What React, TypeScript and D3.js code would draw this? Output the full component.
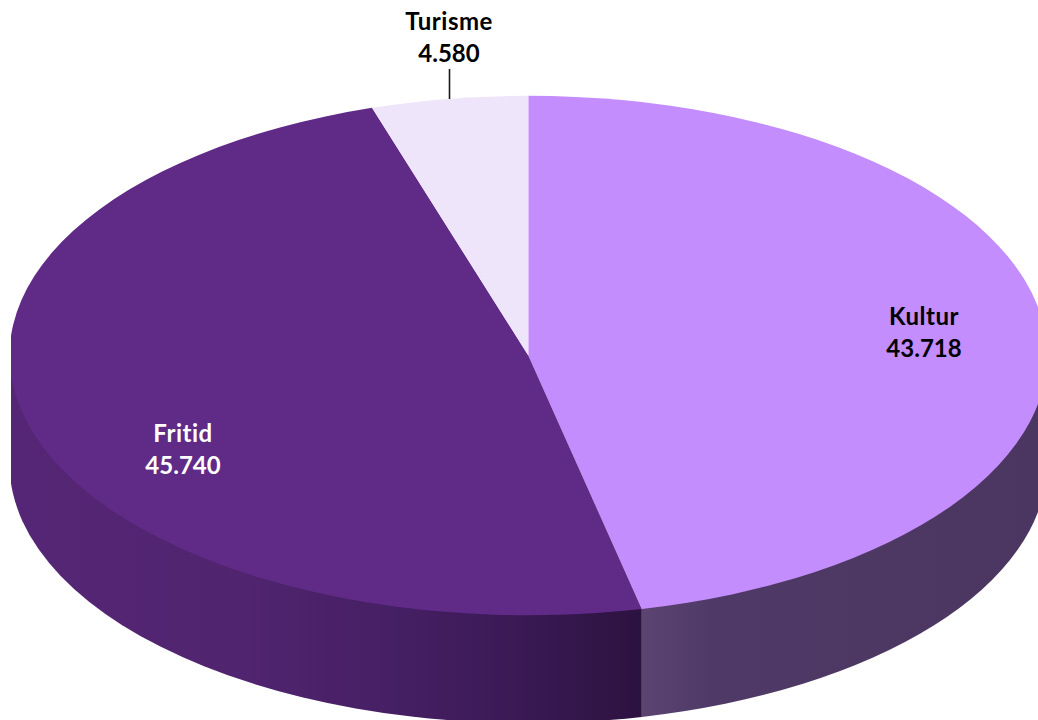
import React from "react";
import * as d3 from "d3";

const categories = ["Kultur", "Fritid", "Turisme"];
const values = [43718, 45740, 4580];
const valueLabels = ["43.718", "45.740", "4.580"];
const topColors = ["#c48dfd", "#602a87", "#efe5fb"];

const W = 1038, H = 720;
const cx = 528.3, cy = 355.5, rx = 518.8, ry = 259.7, depth = 108;
const clipLeft = 11;
const font = "Lato, Carlito, Calibri, sans-serif";

const ellipsePoint = (a: number) => [cx + rx * Math.sin(a), cy - ry * Math.cos(a)];

// The top edge is a chord hidden under the top face, so no seam shows between wall and face.
function wallPath(a0: number, a1: number) {
  const [x0, y0] = ellipsePoint(a0);
  const [x1, y1] = ellipsePoint(a1);
  return `M${x0},${y0}L${x1},${y1}L${x1},${y1 + depth}A${rx},${ry} 0 0 0 ${x0},${y0 + depth}Z`;
}

export default function App() {
  const pie = d3.pie<number>().sort(null)(values);
  const arc = d3.arc<d3.PieArcDatum<number>>().innerRadius(0).outerRadius(rx);
  const kultur = pie[0], fritid = pie[1];
  const splitX = ellipsePoint(kultur.endAngle)[0];

  const fritidStops: [number, string][] = [
    [cx - rx, "#552675"], [250, "#50246f"], [400, "#451f63"], [500, "#3c1a57"], [splitX - 60, "#33164a"], [splitX, "#2c1240"],
  ];
  const kulturStops: [number, string][] = [
    [splitX, "#5b4471"], [splitX + 70, "#4f3966"], [cx + rx, "#4b3661"],
  ];
  const pct = (x: number, a: number, b: number) => `${((x - a) / (b - a)) * 100}%`;

  const labels = [
    { i: 0, x: 924, y: 316, fill: "#000" },
    { i: 1, x: 183, y: 433, fill: "#fff" },
    { i: 2, x: 449, y: 21.5, fill: "#000" },
  ];

  return (
    <svg width={W} height={H} viewBox={`0 0 ${W} ${H}`} style={{ position: "fixed", left: 0, top: 0, background: "#fff" }}>
      <defs>
        <linearGradient id="wallF" gradientUnits="userSpaceOnUse" x1={cx - rx} x2={splitX} y1={0} y2={0}>
          {fritidStops.map(([x, c]) => <stop key={x} offset={pct(x, cx - rx, splitX)} stopColor={c} />)}
        </linearGradient>
        <linearGradient id="wallK" gradientUnits="userSpaceOnUse" x1={splitX} x2={cx + rx} y1={0} y2={0}>
          {kulturStops.map(([x, c]) => <stop key={x} offset={pct(x, splitX, cx + rx)} stopColor={c} />)}
        </linearGradient>
        <clipPath id="plotClip">
          <rect x={clipLeft} y={0} width={W - clipLeft} height={H} />
        </clipPath>
      </defs>

      <g clipPath="url(#plotClip)">
        <path d={wallPath(Math.PI / 2, kultur.endAngle)} fill="url(#wallK)" />
        <path d={wallPath(fritid.startAngle, (3 * Math.PI) / 2)} fill="url(#wallF)" />
        <g transform={`translate(${cx},${cy}) scale(1,${ry / rx})`}>
          {pie.map((d, i) => (
            <path key={categories[i]} d={arc(d) as string} fill={topColors[i]} />
          ))}
        </g>
      </g>

      <line x1={449.5} x2={449.5} y1={69} y2={99} stroke="#1a1a1a" strokeWidth={1.6} />

      {labels.map(({ i, x, y, fill }) => (
        <text key={categories[i]} textAnchor="middle" fontFamily={font} fontWeight={700} fontSize={24} fill={fill}>
          <tspan x={x} y={y} dy="0.36em" letterSpacing={0.5}>{categories[i]}</tspan>
          <tspan x={x} y={y + 32} dy="0.36em">{valueLabels[i]}</tspan>
        </text>
      ))}
    </svg>
  );
}
